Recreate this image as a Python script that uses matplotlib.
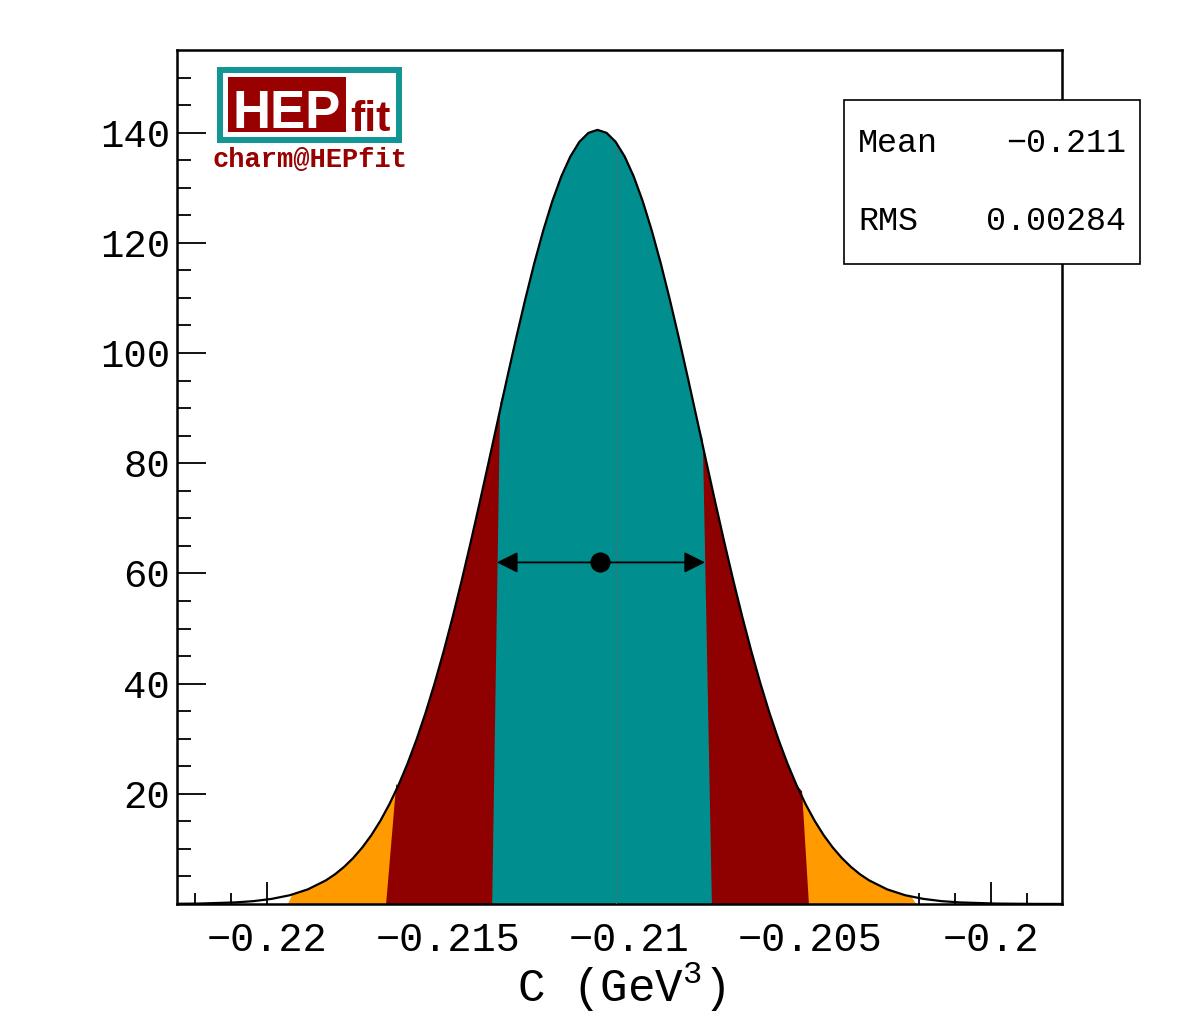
import numpy as np
import matplotlib
matplotlib.use("Agg")
import matplotlib.pyplot as plt
from matplotlib.patches import Rectangle, Polygon

plt.rcParams["mathtext.fontset"] = "custom"
plt.rcParams["mathtext.rm"] = "Liberation Mono"
plt.rcParams["mathtext.it"] = "Liberation Mono"

# ---------------- data ----------------
curve_x = [-0.22262, -0.22187, -0.22087, -0.22037, -0.21987, -0.21937, -0.21887,
           -0.21837, -0.21812, -0.21787, -0.21762, -0.21737, -0.21712, -0.21687,
           -0.21662, -0.21637, -0.21612, -0.21587, -0.21562, -0.21537, -0.21512,
           -0.21487, -0.21462, -0.21437, -0.21412, -0.21387, -0.21362, -0.21337,
           -0.21312, -0.21287, -0.21262, -0.21237, -0.21212, -0.21187, -0.21162,
           -0.21137, -0.21112, -0.21087, -0.21062, -0.21037, -0.21012, -0.20987,
           -0.20962, -0.20937, -0.20912, -0.20887, -0.20862, -0.20837, -0.20812,
           -0.20787, -0.20762, -0.20737, -0.20712, -0.20687, -0.20662, -0.20637,
           -0.20612, -0.20587, -0.20562, -0.20537, -0.20512, -0.20487, -0.20462,
           -0.20437, -0.20412, -0.20387, -0.20362, -0.20337, -0.20287, -0.20237,
           -0.20187, -0.20137, -0.20087, -0.19987, -0.19887, -0.19787]
curve_y = [0.03, 0.08, 0.29, 0.52, 0.93, 1.59, 2.66,
           4.30, 5.40, 6.74, 8.34, 10.24, 12.47, 15.08,
           18.10, 21.54, 25.45, 29.83, 34.69, 40.04, 45.86,
           52.11, 58.76, 65.75, 73.00, 80.42, 87.91, 95.37,
           102.65, 109.64, 116.21, 122.21, 127.53, 132.05, 135.68,
           138.34, 139.96, 140.50, 139.96, 138.34, 135.68, 132.05,
           127.53, 122.21, 116.21, 109.64, 102.65, 95.37, 87.91,
           80.42, 73.00, 65.75, 58.76, 52.11, 45.86, 40.04,
           34.69, 29.83, 25.45, 21.54, 18.10, 15.08, 12.47,
           10.24, 8.34, 6.74, 5.40, 4.30, 2.66, 1.59,
           0.93, 0.52, 0.29, 0.08, 0.02, 0.004]

# probability regions: (bottom-left, top-left, top-right, bottom-right)
region_names = ["99.7%", "95.4%", "68.3%"]
region_bounds = [(-0.21942, -0.21930, -0.20220, -0.20207),
                 (-0.21671, -0.21643, -0.20522, -0.20503),
                 (-0.21378, -0.21356, -0.20796, -0.20771)]
region_colors = ["#ff9a00", "#8f0000", "#008e8e"]
region_bumps = [0.0, 1.0, 1.2]

mode_line_x = -0.21037
point_x = -0.2108
point_y = 62.0
interval_lo = -0.21365
interval_hi = -0.20790

stat_labels = ["Mean", "RMS"]
stat_values = ["\u22120.211", "0.00284"]

x_ticks = [-0.22, -0.215, -0.21, -0.205, -0.2]
x_tick_labels = ["\u22120.22", "\u22120.215", "\u22120.21", "\u22120.205", "\u22120.2"]
y_ticks = [20, 40, 60, 80, 100, 120, 140]
y_tick_labels = ["20", "40", "60", "80", "100", "120", "140"]
x_label = "C (GeV$^{3}$)"

W, H = 1182, 1017
fig = plt.figure(figsize=(W / 100, H / 100), dpi=100)
mono = ["Liberation Mono", "DejaVu Sans Mono"]


def fx(px):
    return px / W


def fy(py):
    return 1 - py / H


ax = fig.add_axes([fx(177), fy(904), fx(1062) - fx(177), fy(50) - fy(904)])
ax.set_xlim(-0.222486, -0.198039)
ax.set_ylim(0, 155)

cx = np.array(curve_x)
cy = np.array(curve_y)

for (lb, lt, rt, rb), col, bump in zip(region_bounds, region_colors, region_bumps):
    inside = (cx > lt) & (cx < rt)
    pts = [(lb, 0.0), (lt, np.interp(lt, cx, cy) + bump)]
    pts += list(zip(cx[inside], cy[inside]))
    pts += [(rt, np.interp(rt, cx, cy) + bump), (rb, 0.0)]
    ax.add_patch(Polygon(pts, closed=True, facecolor=col, edgecolor="none", zorder=2))

ax.plot([mode_line_x, mode_line_x], [0, np.interp(mode_line_x, cx, cy)],
        color="#3f7575", lw=0.7, zorder=3)
ax.plot(cx, cy, color="black", lw=1.6, zorder=4)

ax.annotate("", xy=(interval_lo, point_y), xytext=(interval_hi, point_y),
            arrowprops=dict(arrowstyle="<|-|>", color="black", lw=1.3,
                            mutation_scale=32, shrinkA=0, shrinkB=0), zorder=5)
ax.plot([point_x], [point_y], "o", color="black", markersize=13.5, zorder=6)

ax.set_xticks(x_ticks)
ax.set_xticklabels(x_tick_labels)
ax.set_xticks(np.arange(-0.222, -0.1985, 0.001), minor=True)
ax.set_yticks(y_ticks)
ax.set_yticklabels(y_tick_labels)
ax.set_yticks(np.arange(5, 155, 5), minor=True)

ax.tick_params(axis="x", which="major", direction="in", length=16, width=1.3,
               pad=12, labelsize=29, top=False)
ax.tick_params(axis="x", which="minor", direction="in", length=8, width=1.3, top=False)
ax.tick_params(axis="y", which="major", direction="in", length=21, width=1.3,
               pad=5, labelsize=28, right=False)
ax.tick_params(axis="y", which="minor", direction="in", length=10, width=1.3, right=False)
for lab in ax.get_xticklabels() + ax.get_yticklabels():
    lab.set_family(mono)
for sp in ax.spines.values():
    sp.set_linewidth(1.8)

fig.text(fx(621), fy(987), x_label, ha="center", va="center", fontsize=33, family=mono)

# stats box
fig.add_artist(Rectangle((fx(844), fy(264)), fx(1140) - fx(844), fy(100) - fy(264),
                         transform=fig.transFigure, facecolor="white",
                         edgecolor="black", lw=1.2, zorder=10))
for i, (lab, val) in enumerate(zip(stat_labels, stat_values)):
    yy = fy(143 + 79 * i)
    fig.text(fx(858), yy, lab, ha="left", va="center", fontsize=24, family=mono, zorder=11)
    fig.text(fx(1126), yy, val, ha="right", va="center", fontsize=24, family=mono, zorder=11)

# logo
lax = fig.add_axes([fx(205), fy(175), fx(420) - fx(205), fy(60) - fy(175)])
lax.set_xlim(205, 420)
lax.set_ylim(175, 60)
lax.axis("off")
lax.patch.set_alpha(0)
lax.add_patch(Rectangle((220, 70), 179, 70, facecolor="white", edgecolor="#119595", lw=4.3))
lax.add_patch(Rectangle((228, 77), 118, 55, facecolor="#990000", edgecolor="none"))
lax.text(287, 128, "HEP", ha="center", va="baseline", color="white", fontsize=38,
         fontweight="bold", family=["Liberation Sans", "DejaVu Sans"])
lax.text(350, 131, "fit", ha="left", va="baseline", color="#990000", fontsize=31,
         fontweight="bold", family=["Liberation Sans", "DejaVu Sans"])
lax.text(310, 160, "charm@HEPfit", ha="center", va="center", color="#990000",
         fontsize=19.5, fontweight="bold", family=mono)

fig.savefig("out.png", dpi=100)
